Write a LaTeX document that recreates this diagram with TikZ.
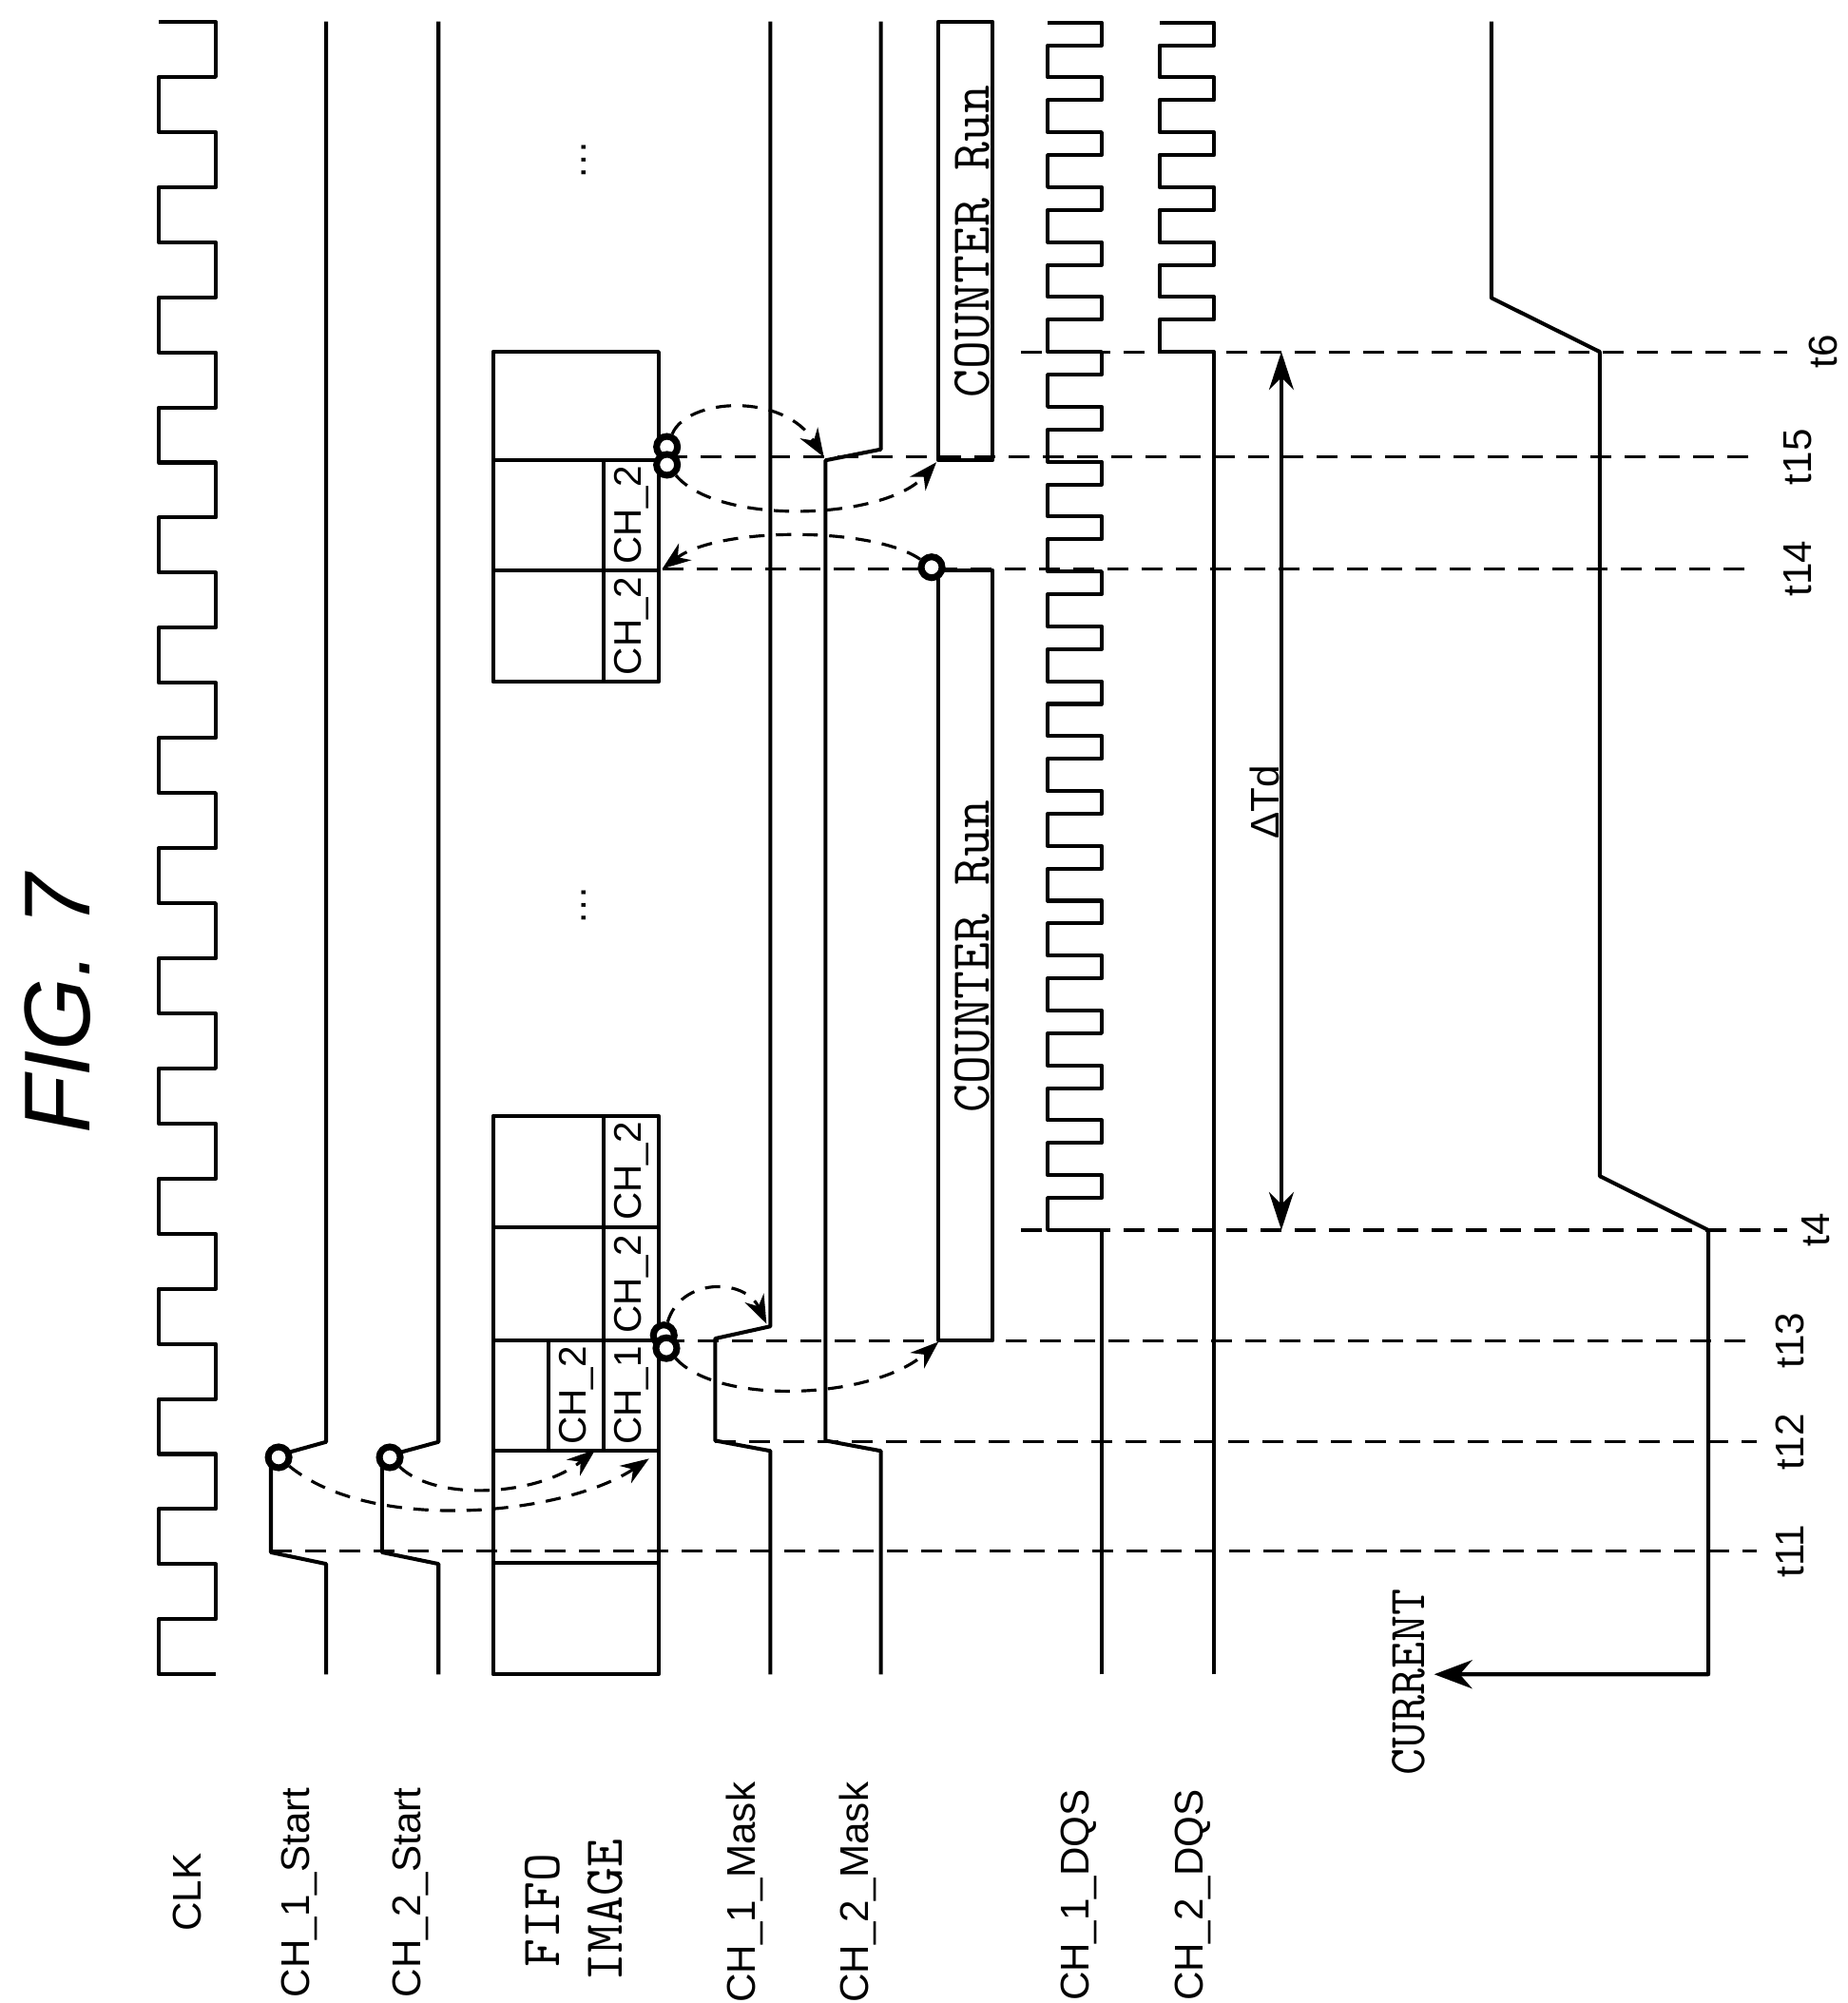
\documentclass[tikz,border=0pt]{standalone}
\usepackage{fontspec}
\setmainfont{Liberation Sans}
\usetikzlibrary{arrows.meta,calc,positioning}
\tikzset{%
        x = 0.13506mm,
        y = -0.13506mm,
        every node/.style = {inner sep = 0pt}
}
\tikzstyle{wave}=[
    draw = black,
    line width = 1.15pt,
    line join = round
]
\tikzstyle{tmark}=[
    dash pattern = on 2.2mm off 1.4mm,
    line width = 0.9pt
]
\tikzstyle{hop}=[
    dash pattern = on 1.6mm off 1.2mm,
    line width = 0.9pt,
    -{Stealth[length=3mm,width=2.2mm]}
]
\tikzstyle{hsdot}=[
    circle,
    draw = black,
    line width = 2pt,
    fill = white,
    minimum size = 2.2mm
]
\tikzstyle{sig}=[rotate=90, font=\fontsize{12}{14}\selectfont]
\tikzstyle{mono}=[rotate=90, font=\fontsize{16.5}{19}\ttfamily]

\begin{document}
\begin{tikzpicture}
        \useasboundingbox (0,0) rectangle (1438.6,1560);
        % title and signal names
        \node[rotate=90, font=\fontsize{28}{30}\selectfont\itshape] (fig) at (45,782) {FIG. 7};
        \node[sig] (clk) at (146,1474) {CLK};
        \node[sig] (s1) at (233,1474) {CH\_1\_Start};
        \node[sig] (s2) at (320,1474) {CH\_2\_Start};
        \node[mono, align=center] (fifo) at (447,1488) {FIFO\\IMAGE};
        \node[sig] (m1) at (580,1474) {CH\_1\_Mask};
        \node[sig] (m2) at (668,1474) {CH\_2\_Mask};
        \node[sig] (d1) at (840,1476) {CH\_1\_DQS};
        \node[sig] (d2) at (929,1476) {CH\_2\_DQS};
        \node[rotate=90, font=\fontsize{15.5}{17}\ttfamily] (cur) at (1097,1310) {CURRENT};
        % clock
        \draw[wave] (168,1304) -- (123.6,1304)
          \foreach \i in {1,...,15} { -- ++(0,-42.9) -- ++(44.4,0) -- ++(0,-42.9) -- ++(-44.4,0) };
        % start pulses
        \draw[wave] (254,1304) -- (254,1218) -- (211,1209) -- (211,1135) -- (254,1123) -- (254,16.8);
        \draw[wave] (341.5,1304) -- (341.5,1218) -- (297.6,1209) -- (297.6,1135) -- (341.5,1123) -- (341.5,16.8);
        % fifo image
        \foreach \y in {869,956,1044,1130,1217} \draw[wave] (384,\y) -- (513,\y);
        \draw[wave] (384,869) rectangle (513,1304);
        \draw[wave] (470,869) -- (470,1044);
        \draw[wave] (427,1044) -- (427,1130);
        \draw[wave] (470,1044) -- (470,1130);
        \draw[wave] (384,274) rectangle (513,531);
        \foreach \y in {358.5,444} \draw[wave] (384,\y) -- (513,\y);
        \draw[wave] (470,358.5) -- (470,531);
        \foreach \y/\t [count=\n] in {912/CH\_2,1000/CH\_2,1087/CH\_1,401/CH\_2,487.5/CH\_2}
          \node[sig, font=\fontsize{11.5}{13}\selectfont] (cell\n) at (492,\y) {\t};
        \node[sig, font=\fontsize{11.5}{13}\selectfont] (cell6) at (449,1087) {CH\_2};
        \node[rotate=90, font=\large] (dotsA) at (455,125) {\dots};
        \node[rotate=90, font=\large] (dotsB) at (455,705) {\dots};
        % masks
        \draw[wave] (600,1304) -- (600,1130) -- (557,1122) -- (557,1042.5) -- (600,1033) -- (600,16.8);
        \draw[wave] (686,1304) -- (686,1130) -- (643,1122) -- (643,358.5) -- (686,350) -- (686,16.8);
        % counters
        \draw[wave] (731,1044) rectangle (773,444);
        \draw[wave] (731,358.5) rectangle (773,16.8);
        \node[mono] (run1) at (757,745) {COUNTER Run};
        \node[mono] (run2) at (757,188) {COUNTER Run};
        % dqs
        \draw[wave] (858,1304) -- (858,958) -- (816,958)
          \foreach \i in {1,...,22} { -- ++(0,-25) -- ++(42,0) -- ++(0,-17.75) -- ++(-42,0) };
        \draw[wave] (945.5,1304) -- (945.5,274) -- (903,274)
          \foreach \i in {1,...,6} { -- ++(0,-25) -- ++(42.5,0) -- ++(0,-17.75) -- ++(-42.5,0) };
        % current
        \coordinate (tip) at (1117,1304);
        \draw[wave] (1161.5,16.8) -- (1161.5,232) -- (1246,274) -- (1246,916) -- (1330.5,958) -- (1330.5,1304) -- (1135,1304);
        \draw[wave, -{Stealth[length=4mm,width=3mm]}] (1140,1304) -- (tip);
        % time marks
        \foreach \y/\a/\b/\t/\lx in {1208/211/1368/t11/1394, 1123/557/1368/t12/1394, 1044/517/1368/t13/1394,
                                     958/795/1392/t4/1414, 443/516/1368/t14/1400, 356/519/1368/t15/1400,
                                     274/795/1392/t6/1420} {
          \draw[tmark] (\a,\y) -- (\b,\y);
          \node[sig] (lab\t) at (\lx,\y) {\t};
        }
        % delta td
        \coordinate (tdA) at (998,958);
        \coordinate (tdB) at (998,274);
        \draw[line width=1pt, {Stealth[length=4mm,width=2.6mm]}-{Stealth[length=4mm,width=2.6mm]}] (tdA) -- (tdB);
        \node[sig] (td) at (985,625) {ΔTd};
        % handshakes
        \node[hsdot] (c1) at (217,1135) {};
        \node[hsdot] (c2) at (303.6,1135) {};
        \node[hsdot] (c3) at (517,1040) {};
        \node[hsdot] (c4) at (519,1050) {};
        \node[hsdot] (c5) at (519.5,348) {};
        \node[hsdot] (c6) at (519.5,362) {};
        \node[hsdot] (c7) at (725.6,441.8) {};
        \coordinate (f1) at (505.5,1136);
        \coordinate (f2) at (463.7,1129);
        \coordinate (k1) at (597,1031);
        \coordinate (k2) at (731,1045);
        \coordinate (k3) at (641.7,356);
        \coordinate (k4) at (729.3,360);
        \coordinate (f3) at (515.8,443);
        \draw[hop] (c1) .. controls (290,1195) and (440,1180) .. (f1);
        \draw[hop] (c2) .. controls (340,1170) and (420,1165) .. (f2);
        \draw[hop] (c3) .. controls (530,995) and (580,995) .. (k1);
        \draw[hop] (c4) .. controls (560,1095) and (680,1090) .. (k2);
        \draw[hop] (c5) .. controls (535,310) and (610,305) .. (k3);
        \draw[hop] (c6) .. controls (560,410) and (690,405) .. (k4);
        \draw[hop] (c7) .. controls (680,410) and (560,410) .. (f3);
\end{tikzpicture}
\end{document}
